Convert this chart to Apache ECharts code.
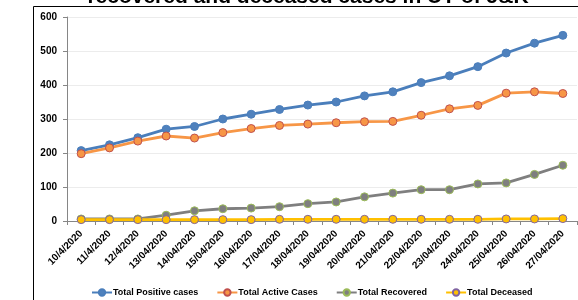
<!DOCTYPE html>
<html>
<head>
<meta charset="utf-8">
<script src="https://cdn.jsdelivr.net/npm/echarts@6/dist/echarts.min.js"></script>
<style>
  html, body { margin: 0; padding: 0; background: #fff; }
  #chart { width: 578px; height: 300px; }
</style>
</head>
<body>
<div id="chart"></div>
<script>
var dates = ['10/4/2020', '11/4/2020', '12/4/2020', '13/04/2020', '14/04/2020', '15/04/2020',
  '16/04/2020', '17/04/2020', '18/04/2020', '19/04/2020', '20/04/2020', '21/04/2020',
  '22/04/2020', '23/04/2020', '24/04/2020', '25/04/2020', '26/04/2020', '27/04/2020'];
var positive = [207, 224, 245, 270, 278, 300, 314, 328, 341, 350, 368, 380, 407, 427, 454, 494, 523, 546];
var active = [198, 215, 235, 250, 244, 260, 272, 281, 285, 289, 292, 293, 311, 330, 340, 376, 380, 375];
var recovered = [6, 6, 6, 17, 30, 36, 38, 42, 51, 56, 71, 82, 92, 92, 109, 112, 137, 164];
var deceased = [4, 4, 4, 4, 4, 4, 4, 5, 5, 5, 5, 5, 5, 5, 5, 6, 6, 7];

var font = '"Liberation Sans", Arial, sans-serif';

function lineSeries(name, data, lineColor, fill, border) {
  return {
    name: name,
    type: 'line',
    data: data,
    symbol: 'circle',
    symbolSize: 8,
    lineStyle: { color: lineColor, width: 2.8 },
    itemStyle: { color: fill, borderColor: border, borderWidth: 1 },
    emphasis: { disabled: true }
  };
}

var myChart = echarts.init(document.getElementById('chart'));
myChart.setOption({
  animation: false,
  graphic: [
    {
      type: 'text',
      style: {
        text: 'recovered and deceased cases in UT of J&K',
        x: 308, y: 8,
        textAlign: 'center', textVerticalAlign: 'bottom',
        font: 'bold 21px ' + font,
        fill: '#000'
      }
    },
    {
      type: 'polyline',
      shape: { points: [[33.5, 300], [33.5, 6.5], [578, 6.5]] },
      style: { stroke: '#000', lineWidth: 1, fill: null }
    }
  ],
  grid: {
    left: 67, right: 1, top: 17, bottom: 79,
    containLabel: false,
    outerBoundsMode: 'none'
  },
  legend: {
    left: 86, top: 283,
    itemWidth: 20, itemHeight: 8, itemGap: 18,
    textStyle: { fontFamily: font, fontWeight: 'bold', fontSize: 9, color: '#000', padding: [0, 0, 0, -4] },
    data: ['Total Positive cases', 'Total Active Cases', 'Total Recovered', 'Total Deceased']
  },
  xAxis: {
    type: 'category',
    data: dates,
    boundaryGap: true,
    axisLine: { lineStyle: { color: '#868686', width: 1 } },
    axisTick: { show: true, length: 4, lineStyle: { color: '#868686' } },
    axisLabel: {
      interval: 0, rotate: 45, margin: 11,
      fontFamily: font, fontWeight: 'bold', fontSize: 10, color: '#000'
    },
    splitLine: { show: false }
  },
  yAxis: {
    type: 'value',
    min: 0, max: 600, interval: 100,
    axisLine: { show: true, lineStyle: { color: '#868686', width: 1 } },
    axisTick: { show: true, length: 4, lineStyle: { color: '#868686' } },
    axisLabel: { margin: 10, fontFamily: font, fontWeight: 'bold', fontSize: 10, color: '#000' },
    splitLine: { lineStyle: { color: '#ececec', width: 1 } }
  },
  series: [
    lineSeries('Total Positive cases', positive, '#4A7EBB', '#4F81BD', '#4A7EBB'),
    lineSeries('Total Active Cases', active, '#F79646', '#F79646', '#C0504D'),
    lineSeries('Total Recovered', recovered, '#7F7F7F', '#7F7F7F', '#9BBB59'),
    lineSeries('Total Deceased', deceased, '#FFC000', '#FFC000', '#8064A2')
  ]
});
</script>
</body>
</html>
